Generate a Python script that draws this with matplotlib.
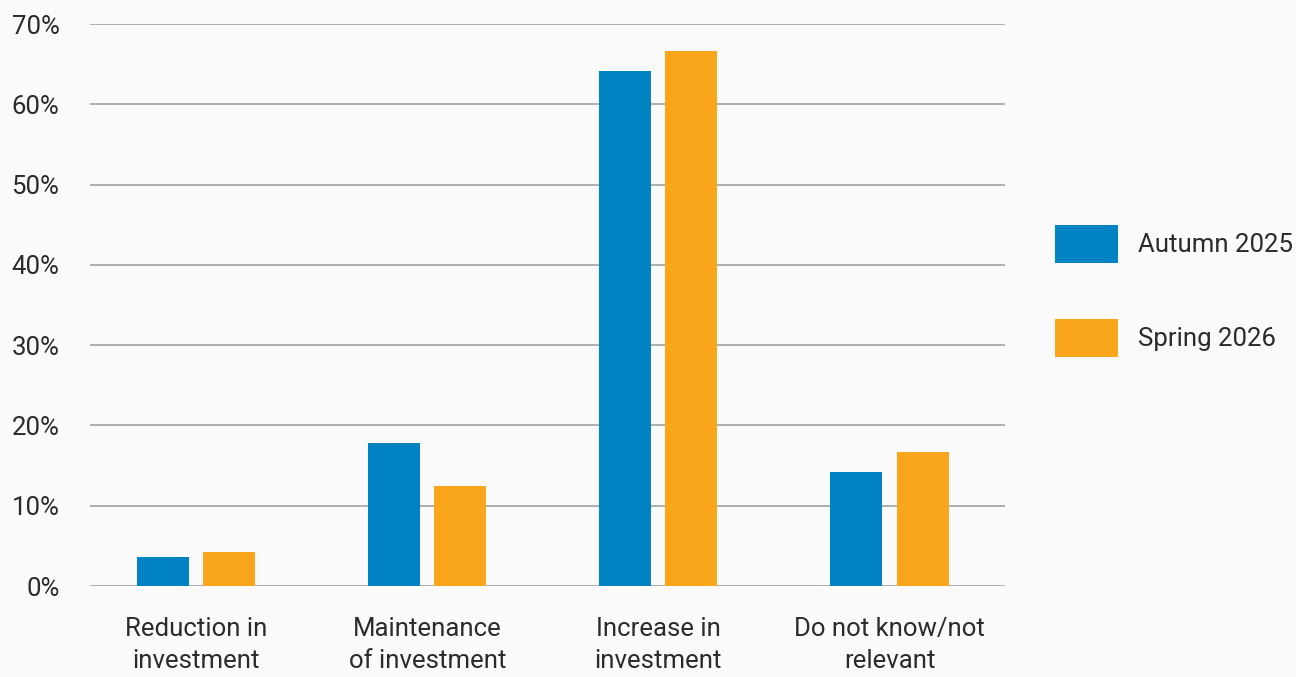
import numpy as np
import matplotlib.pyplot as plt

categories = ["Reduction in\ninvestment", "Maintenance\nof investment",
              "Increase in\ninvestment", "Do not know/not\nrelevant"]
autumn_2025 = [3.6, 17.8, 64.1, 14.2]
spring_2026 = [4.2, 12.5, 66.6, 16.7]
y_ticks = [0, 10, 20, 30, 40, 50, 60, 70]

blue = '#0082c3'
orange = '#f9a61c'
text_color = '#2b2b2b'
grid_color = '#9a9a9a'
bg = '#fafafa'
fs = 18.5

plt.rcParams['font.family'] = ['Roboto', 'DejaVu Sans']

fig = plt.figure(figsize=(12.96, 6.77), dpi=100, facecolor=bg)
ax = fig.add_axes([0.0694, 0.1344, 0.7061, 0.8301], facecolor=bg)

x = np.arange(len(categories))
width = 0.225
offset = 0.143
ax.bar(x - offset, autumn_2025, width, color=blue, label='Autumn 2025', zorder=3)
ax.bar(x + offset, spring_2026, width, color=orange, label='Spring 2026', zorder=3)

# horizontal gridlines only
for t in y_ticks:
    ax.axhline(t, color=grid_color, linewidth=1.1, zorder=1)

ax.set_xlim(-0.46, 3.50)
ax.set_ylim(0, 70)
ax.set_yticks(y_ticks)
ax.set_yticklabels([f'{t}%' for t in y_ticks], fontsize=fs, color=text_color)
ax.set_xticks(x)
ax.set_xticklabels(categories, fontsize=fs, color=text_color, linespacing=1.45)
ax.tick_params(axis='y', length=0, pad=22)
ax.tick_params(axis='x', length=0, pad=22)
for s in ax.spines.values():
    s.set_visible(False)

ax.legend(loc='upper left', bbox_to_anchor=(0.8140, 0.668), bbox_transform=fig.transFigure,
          frameon=False, fontsize=fs, labelcolor=text_color,
          handlelength=2.45, handleheight=1.9, handletextpad=0.8,
          labelspacing=2.18, borderpad=0, borderaxespad=0)

fig.savefig('out.png', dpi=100, facecolor=bg)
